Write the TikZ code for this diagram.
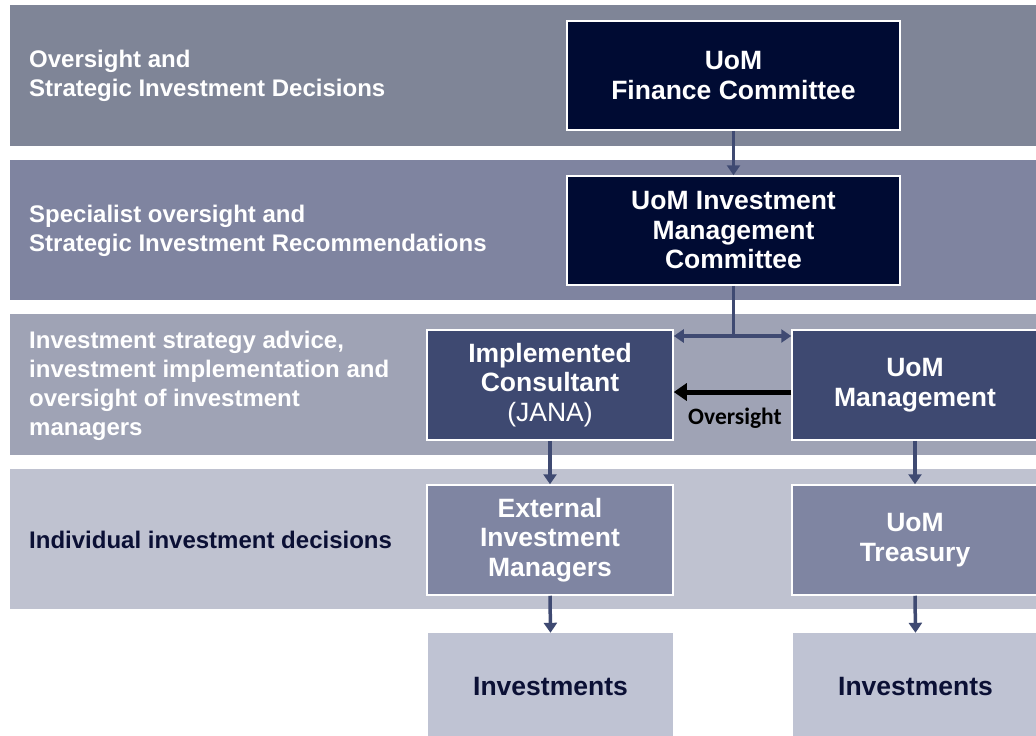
\documentclass[tikz,border=0pt]{standalone}
\usepackage{fontspec}
\setmainfont{Liberation Sans}
\newfontfamily\calib{Carlito}
\usetikzlibrary{arrows.meta}
\definecolor{bandA}{HTML}{7F8597}
\definecolor{bandB}{HTML}{7F84A0}
\definecolor{bandC}{HTML}{9FA3B5}
\definecolor{bandD}{HTML}{BFC2D0}
\definecolor{navy}{HTML}{000B33}
\definecolor{midblue}{HTML}{3E4971}
\definecolor{lightblue}{HTML}{7F85A2}
\definecolor{paleblue}{HTML}{BFC3D3}
\definecolor{arrowc}{HTML}{3F4A72}
\definecolor{darktext}{HTML}{0B1035}
\tikzset{
  boxbase/.style={align=center, inner sep=0pt, text=white,
    font=\bfseries\fontsize{26.5}{29.5}\selectfont},
  topbox/.style={boxbase, draw=white, line width=1.5pt, fill=navy,
    minimum width=333pt, minimum height=109pt},
  midbox/.style={boxbase, draw=white, line width=1.5pt, fill=midblue,
    minimum width=246pt, minimum height=110pt},
  lowbox/.style={boxbase, draw=white, line width=1.5pt, fill=lightblue,
    minimum width=246pt, minimum height=110pt},
  invbox/.style={boxbase, fill=paleblue, text=darktext,
    minimum width=245pt, minimum height=108pt},
  bandlabel/.style={anchor=west, align=left, inner sep=0pt, text=white,
    font=\bfseries\fontsize{24}{29}\selectfont},
  flow/.style={draw=arrowc, line width=3.5pt},
  flowarrow/.style={flow, -{Triangle[length=10pt,width=13pt]}},
}
\begin{document}
\begin{tikzpicture}[x=1pt,y=-1pt]
\useasboundingbox (0,0) rectangle (1036,736);
\clip (0,0) rectangle (1036,736);
\fill[white] (0,0) rectangle (1036,736);
% bands
\fill[bandA] (10,5) rectangle (1040,146);
\fill[bandB] (10,160) rectangle (1040,300);
\fill[bandC] (10,314) rectangle (1040,455);
\fill[bandD] (10,469) rectangle (1040,609);
% band labels
\node[bandlabel] (l1) at (29,75.5) {Oversight and\\Strategic Investment Decisions};
\node[bandlabel] (l2) at (29,230.5) {Specialist oversight and\\Strategic Investment Recommendations};
\node[bandlabel] (l3) at (29,385.5) {Investment strategy advice,\\investment implementation and\\oversight of investment\\managers};
\node[bandlabel, text=darktext] (l4) at (29,540) {Individual investment decisions};
% boxes
\node[topbox] (fin) at (733.5,75.5) {UoM\\Finance Committee};
\node[topbox] (imc) at (733.5,230.5) {UoM Investment\\Management\\Committee};
\node[midbox] (ic) at (550,385) {Implemented\\Consultant\\{\mdseries(JANA)}};
\node[midbox] (mgmt) at (915,385) {UoM\\Management};
\node[lowbox] (ext) at (550,540) {External\\Investment\\Managers};
\node[lowbox] (tre) at (915,540) {UoM\\Treasury};
\node[invbox] (inv1) at (550.5,687) {Investments};
\node[invbox] (inv2) at (915.5,687) {Investments};
% connectors
\draw[flowarrow] (fin.south) -- (imc.north);
\coordinate (split) at (733.5,336);
\draw[flow] (imc.south) -- (split);
\draw[flowarrow] (split) -- (split -| ic.east);
\draw[flowarrow] (split) -- (split -| mgmt.west);
\draw[black, line width=5pt, -{Triangle[length=13pt,width=17pt]}] ([yshift=-7pt]mgmt.west) -- ([yshift=-7pt]ic.east);
\node[font=\calib\bfseries\fontsize{23.5}{25}\selectfont, text=black] (ovl) at (735,418) {Oversight};
\draw[flowarrow] (ic.south) -- (ext.north);
\draw[flowarrow] (mgmt.south) -- (tre.north);
\draw[flowarrow] (ext.south) -- (inv1.north);
\draw[flowarrow] (tre.south) -- (inv2.north);
\end{tikzpicture}
\end{document}
